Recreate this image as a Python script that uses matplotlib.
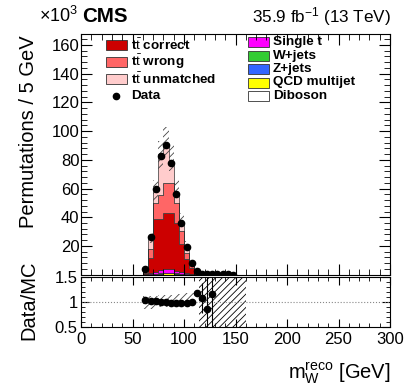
import matplotlib
matplotlib.use('Agg')
import matplotlib.pyplot as plt
import numpy as np
from matplotlib.patches import Rectangle
from matplotlib.ticker import MultipleLocator

plt.rcParams['font.family'] = ['Liberation Sans', 'DejaVu Sans']
plt.rcParams['mathtext.fontset'] = 'custom'
plt.rcParams['mathtext.rm'] = 'Liberation Sans'
plt.rcParams['mathtext.it'] = 'Liberation Sans:italic'
plt.rcParams['mathtext.bf'] = 'Liberation Sans:bold'
plt.rcParams['hatch.linewidth'] = 0.6
plt.rcParams['hatch.color'] = '#444444'

# bin edges of the populated region (5 GeV bins)
edges = np.arange(60, 120, 5)          # 60 ... 115
# stacked MC components (x10^3)
diboson   = [0.01, 0.02, 0.05, 0.05, 0.05, 0.05, 0.05, 0.03, 0.02, 0.01, 0.01]
qcd       = [0.1, 0.3, 0.5, 0.7, 1.0, 0.9, 0.6, 0.4, 0.3, 0.1, 0.05]
zjets     = [0.02, 0.05, 0.05, 0.05, 0.1, 0.1, 0.1, 0.05, 0.02, 0.02, 0.01]
wjets     = [0.05, 0.1, 0.2, 0.3, 0.3, 0.3, 0.2, 0.1, 0.1, 0.05, 0.02]
single_t  = [0.4, 0.9, 1.4, 2.0, 2.8, 2.6, 1.9, 1.1, 0.7, 0.3, 0.1]
tt_correct   = [0.9, 10, 36.5, 35.5, 38.5, 38.8, 33, 20, 10, 4, 0.8]
tt_wrong     = [1.0, 6.5, 11, 17, 21, 21, 14, 8.5, 4, 2, 0.5]
tt_unmatched = [1.1, 7.8, 8.6, 26.3, 26.5, 15, 7, 6.4, 4.5, 1.9, 0.6]

# MC uncertainty band, relative (60-110 GeV)
band_edges = np.arange(60, 115, 5)
band_hi = [1.12, 1.12, 1.13, 1.14, 1.14, 1.15, 1.16, 1.17, 1.18, 1.19]
band_lo = [0.86, 0.87, 0.88, 0.90, 0.91, 0.92, 0.94, 0.95, 0.96, 0.98]
tail_band = [115, 160]

# data
data_x = [62.5, 67.5, 72.5, 77.5, 82.5, 87.5, 92.5, 97.5, 102.5, 107.5, 112.5,
          117.5, 122.5, 127.5, 132.5, 137.5, 142.5, 147.5]
data_y = [3.8, 26.5, 59.5, 82.7, 90.3, 78.0, 56.0, 36.2, 19.5, 8.4, 2.6,
          0.6, 0.4, 0.3, 0.25, 0.2, 0.15, 0.1]

ratio_x = [62.5, 67.5, 72.5, 77.5, 82.5, 87.5, 92.5, 97.5, 102.5, 107.5, 112.5,
           117.5, 122.5, 127.5]
ratio_y = [1.04, 1.03, 1.02, 1.01, 1.0, 0.99, 0.98, 0.99, 0.99, 1.0, 1.19,
           1.09, 0.87, 1.17]
ratio_err = [0.005, 0.005, 0.005, 0.005, 0.005, 0.005, 0.005, 0.005, 0.005, 0.01, 0.06,
             0.3, 1.0, 1.0]

tt = r't$\bar{\mathrm{t}}$'
components = [
    (diboson, 'white', 'Diboson'),
    (qcd, '#ffff00', 'QCD multijet'),
    (zjets, '#3366ff', 'Z+jets'),
    (wjets, '#33cc33', 'W+jets'),
    (single_t, '#ff00ff', 'Single t'),
    (tt_correct, '#cc0000', tt + ' correct'),
    (tt_wrong, '#ff6666', tt + ' wrong'),
    (tt_unmatched, '#ffcccc', tt + ' unmatched'),
]
colors = {lab: col for _, col, lab in components}

W, H = 407, 391
fig = plt.figure(figsize=(W / 100, H / 100), dpi=100)
ax = fig.add_axes([81 / W, 1 - 274.7 / H, 309 / W, 240.7 / H])
rax = fig.add_axes([81 / W, 1 - 327.3 / H, 309 / W, 50 / H])

base = np.zeros(len(edges) - 1)
for vals, col, lab in components:
    top = base + np.array(vals)
    ax.stairs(top, edges, baseline=base, fill=True, facecolor=col,
              edgecolor='#333333', linewidth=0.5)
    base = top
total = base

mc = total[:len(band_edges) - 1]
ax.stairs(mc * np.array(band_hi), band_edges, baseline=mc * np.array(band_lo),
          fill=True, facecolor='none', hatch='/////', linewidth=0)

ax.plot(data_x, data_y, 'o', color='black', markersize=4.5, zorder=5)

ax.set_xlim(0, 300)
ax.set_ylim(0, 167.6)
ax.xaxis.set_major_locator(MultipleLocator(50))
ax.xaxis.set_minor_locator(MultipleLocator(10))
ax.set_yticks([20, 40, 60, 80, 100, 120, 140, 160])
ax.yaxis.set_minor_locator(MultipleLocator(4))
ax.tick_params(which='both', direction='in', top=True, right=True, labelsize=12)
ax.tick_params(which='major', length=8)
ax.tick_params(which='minor', length=4)
ax.tick_params(axis='x', labelbottom=False)
ax.tick_params(axis='y', pad=1)


# legend drawn in pixel positions of the axes
def px2ax(px, py):
    return (px - 81) / 309, (274.7 - py) / 240.7


def legend_box(px, py, label):
    x0, y0 = px2ax(px, py + 5)
    ax.add_patch(Rectangle((x0, y0), 21 / 309, 10 / 240.7, transform=ax.transAxes,
                           facecolor=colors[label], edgecolor='#333333',
                           linewidth=0.6, clip_on=False))
    tx, ty = px2ax(px + 25, py)
    ax.text(tx, ty, label, transform=ax.transAxes, ha='left', va='center',
            fontsize=9.7, fontweight='bold')


for lab, py in zip([tt + ' correct', tt + ' wrong', tt + ' unmatched'], [45, 62, 79]):
    legend_box(106, py, lab)
dx, dy = px2ax(116, 96)
ax.plot([dx], [dy], 'o', color='black', markersize=4.5, transform=ax.transAxes,
        clip_on=False)
tx, ty = px2ax(131, 96)
ax.text(tx, ty, 'Data', transform=ax.transAxes, ha='left', va='center',
        fontsize=9.7, fontweight='bold')
for lab, py in zip(['Single t', 'W+jets', 'Z+jets', 'QCD multijet', 'Diboson'],
                   [42, 55.5, 69, 82.5, 96]):
    legend_box(248, py, lab)

# ratio panel
rax.stairs(np.array(band_hi), band_edges, baseline=np.array(band_lo), fill=True,
           facecolor='none', hatch='/////', linewidth=0)
rax.fill_between(tail_band, 0, 2, facecolor='none', hatch='/////', linewidth=0)
rax.axhline(1, color='#888888', linestyle=':', linewidth=0.8)
rax.errorbar(ratio_x, ratio_y, yerr=ratio_err, fmt='o', color='black',
             markersize=4.5, elinewidth=0.8, capsize=0, zorder=5)
rax.set_xlim(0, 300)
rax.set_ylim(0.5, 1.5)
rax.set_yticks([0.5, 1, 1.5])
rax.set_yticklabels(['0.5', '1', '1.5'])
rax.xaxis.set_major_locator(MultipleLocator(50))
rax.xaxis.set_minor_locator(MultipleLocator(10))
rax.yaxis.set_minor_locator(MultipleLocator(0.1))
rax.tick_params(which='both', direction='in', top=True, right=True, labelsize=12)
rax.tick_params(which='major', length=6)
rax.tick_params(which='minor', length=3)
rax.tick_params(axis='x', pad=3.5)
rax.tick_params(axis='y', pad=2.5)

# labels
fig.text(29 / W, 1 - 35 / H, 'Permutations / 5 GeV', rotation=90, ha='center',
         va='top', fontsize=14.5)
fig.text(29 / W, 1 - 300 / H, 'Data/MC', rotation=90, ha='center', va='center',
         fontsize=14.5)
fig.text(391 / W, 1 - 373 / H, r'$\mathrm{m}_{\mathrm{W}}^{\mathrm{reco}}$ [GeV]',
         ha='right', va='center', fontsize=14.5)
fig.text(39 / W, 1 - 16 / H, r'$\times10^{3}$', ha='left', va='center', fontsize=13)
fig.text(82 / W, 1 - 16 / H, 'CMS', ha='left', va='center', fontsize=14.8,
         fontweight='bold')
fig.text(391 / W, 1 - 17 / H, r'35.9 fb$^{-1}$ (13 TeV)', ha='right', va='center',
         fontsize=12.3)

fig.savefig('out.png', dpi=100)
